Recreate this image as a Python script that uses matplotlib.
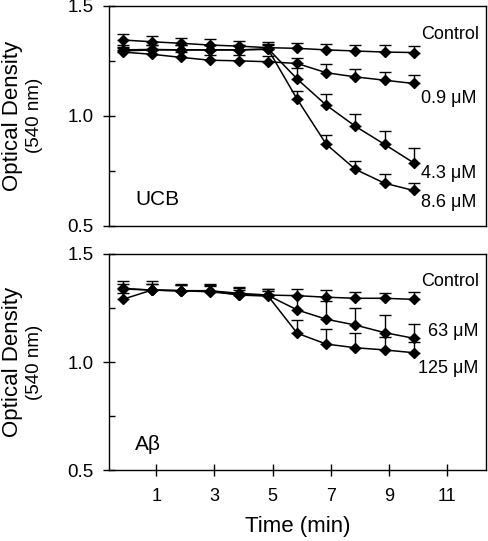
import matplotlib
matplotlib.use("Agg")
import matplotlib.pyplot as plt
import numpy as np

plt.rcParams['font.family'] = ['Liberation Sans', 'DejaVu Sans']

# time points (min)
time = [-0.15, 0.85, 1.85, 2.85, 3.85, 4.85, 5.85, 6.85, 7.85, 8.85, 9.85]

# UCB panel
ucb_control = [1.345, 1.337, 1.330, 1.322, 1.317, 1.310, 1.307, 1.300, 1.295, 1.290, 1.288]
ucb_control_err = [0.026, 0.025, 0.025, 0.026, 0.025, 0.025, 0.026, 0.028, 0.028, 0.030, 0.030]
ucb_09 = [1.290, 1.280, 1.266, 1.253, 1.250, 1.246, 1.238, 1.196, 1.177, 1.162, 1.147]
ucb_09_err = [0.020, 0.020, 0.025, 0.025, 0.025, 0.025, 0.027, 0.040, 0.038, 0.038, 0.038]
ucb_43 = [1.300, 1.302, 1.300, 1.300, 1.300, 1.305, 1.167, 1.048, 0.952, 0.870, 0.786]
ucb_43_err = [0.022, 0.022, 0.022, 0.024, 0.022, 0.022, 0.049, 0.053, 0.058, 0.061, 0.068]
ucb_86 = [1.295, 1.300, 1.300, 1.300, 1.300, 1.302, 1.075, 0.870, 0.756, 0.693, 0.660]
ucb_86_err = [0.020, 0.020, 0.020, 0.020, 0.020, 0.020, 0.038, 0.044, 0.037, 0.040, 0.033]

# Abeta panel
ab_control = [1.341, 1.333, 1.330, 1.330, 1.318, 1.310, 1.307, 1.300, 1.295, 1.295, 1.290]
ab_control_err = [0.035, 0.040, 0.030, 0.030, 0.030, 0.028, 0.030, 0.034, 0.031, 0.026, 0.032]
ab_63 = [1.338, 1.333, 1.330, 1.325, 1.312, 1.308, 1.241, 1.198, 1.171, 1.136, 1.110]
ab_63_err = [0.025, 0.030, 0.025, 0.025, 0.030, 0.030, 0.070, 0.086, 0.080, 0.082, 0.066]
ab_125 = [1.290, 1.333, 1.330, 1.330, 1.310, 1.305, 1.133, 1.083, 1.066, 1.056, 1.043]
ab_125_err = [0.030, 0.030, 0.025, 0.025, 0.025, 0.025, 0.062, 0.068, 0.067, 0.062, 0.050]

ucb_series = [(ucb_control, ucb_control_err), (ucb_09, ucb_09_err),
              (ucb_43, ucb_43_err), (ucb_86, ucb_86_err)]
ucb_labels = ["Control", "0.9 \u03bcM", "4.3 \u03bcM", "8.6 \u03bcM"]
ucb_label_x = [10.1, 10.1, 10.1, 10.1]
ucb_label_y = [1.368, 1.08, 0.737, 0.605]

ab_series = [(ab_control, ab_control_err), (ab_63, ab_63_err), (ab_125, ab_125_err)]
ab_labels = ["Control", "63 \u03bcM", "125 \u03bcM"]
ab_label_x = [10.1, 10.35, 10.0]
ab_label_y = [1.372, 1.14, 0.972]

xticks = [1, 3, 5, 7, 9, 11]

fig = plt.figure(figsize=(4.88, 5.41), dpi=100)
ax1 = fig.add_axes([0.2234, 0.583, 0.7726, 0.406])
ax2 = fig.add_axes([0.2234, 0.1312, 0.7726, 0.3993])


def draw_panel(ax, series, labels, label_x, label_y, name):
    for (vals, err), lab, lx, ly in zip(series, labels, label_x, label_y):
        ax.errorbar(time, vals, yerr=[np.zeros(len(err)), err], color='black',
                    marker='D', markersize=5.5, lw=1.1, elinewidth=1.0,
                    capsize=4.5, capthick=1.0)
        ax.text(lx, ly, lab, fontsize=13, va='center', ha='left')
    ax.set_xlim(-0.62, 12.34)
    ax.set_ylim(0.5, 1.5)
    ax.set_yticks([0.5, 1.0, 1.5])
    ax.set_yticklabels(["0.5", "1.0", "1.5"])
    ax.set_yticks([0.75, 1.25], minor=True)
    ax.tick_params(axis='y', which='major', direction='inout', length=8,
                   labelsize=13.5, width=1, pad=7)
    ax.tick_params(axis='y', which='minor', direction='in', length=4, width=1)
    ax.text(0.069, 0.12, name, transform=ax.transAxes, fontsize=15, va='center', ha='left')
    for s in ax.spines.values():
        s.set_linewidth(1.0)
    ax.text(-0.255, 0.5, "Optical Density", transform=ax.transAxes, rotation=90,
            fontsize=16, va='center', ha='center')
    ax.text(-0.197, 0.5, "(540 nm)", transform=ax.transAxes, rotation=90,
            fontsize=13.5, va='center', ha='center')


draw_panel(ax1, ucb_series, ucb_labels, ucb_label_x, ucb_label_y, "UCB")
draw_panel(ax2, ab_series, ab_labels, ab_label_x, ab_label_y, "A\u03b2")

ax1.set_xticks([])
ax2.set_xticks(xticks)
ax2.tick_params(axis='x', direction='inout', length=8, labelsize=13, width=1, pad=9)
ax2.set_xlabel("Time (min)", fontsize=16, labelpad=8)

fig.savefig("out.png", dpi=100)
